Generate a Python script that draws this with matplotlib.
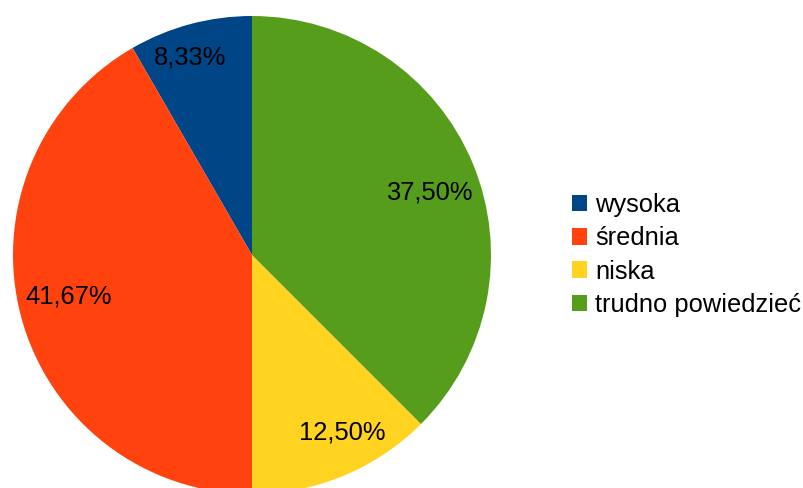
import matplotlib.pyplot as plt
from matplotlib.patches import Patch

categories = ['wysoka', 'średnia', 'niska', 'trudno powiedzieć']
shares = [8.33, 41.67, 12.50, 37.50]
pct_labels = ['8,33%', '41,67%', '12,50%', '37,50%']
colors = ['#004586', '#ff420e', '#ffd320', '#579d1c']

# where LibreOffice put the percentage labels (relative to the pie, radius 1)
label_offsets = [(-0.259, 0.828), (-0.766, -0.174), (0.377, -0.741), (0.741, 0.261)]

plt.rcParams['font.family'] = ['Liberation Sans', 'DejaVu Sans']

fig = plt.figure(figsize=(8.04, 4.88), dpi=100)
# pie centre at (252, 255) px, radius 239 px
ax = fig.add_axes([13 / 804, (488 - 494) / 488, 478 / 804, 478 / 488])

wedges, _ = ax.pie(shares, colors=colors, startangle=90, counterclock=True,
                   radius=1, wedgeprops=dict(linewidth=0))
for (dx, dy), txt in zip(label_offsets, pct_labels):
    ax.text(dx, dy, txt, ha='center', va='center', fontsize=18.4, color='black')

ax.set_xlim(-1, 1)
ax.set_ylim(-1, 1)
ax.set_aspect('equal')
ax.axis('off')

handles = [Patch(facecolor=c, edgecolor='none') for c in colors]
fig.legend(handles, categories, loc='center left', bbox_to_anchor=(572 / 804, 1 - 255 / 488),
           frameon=False, fontsize=18.4, handlelength=0.6, handleheight=0.6,
           handletextpad=0.3, labelspacing=0.36, borderpad=0, borderaxespad=0)

fig.savefig('out.png', dpi=100)
plt.close(fig)
